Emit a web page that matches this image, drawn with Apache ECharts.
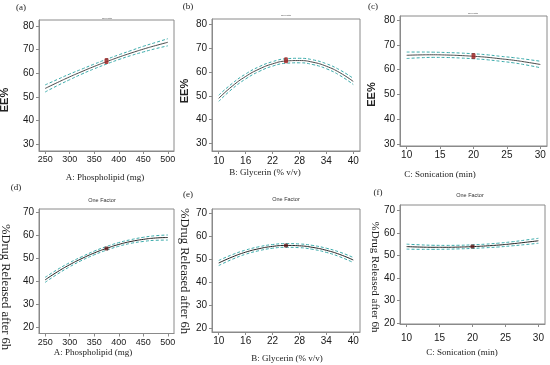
<!DOCTYPE html>
<html><head><meta charset="utf-8">
<script src="https://cdn.jsdelivr.net/npm/echarts@6/dist/echarts.min.js"></script>
<style>html,body{margin:0;padding:0;background:#fff}#c{width:550px;height:365px}</style>
</head><body><div id="c"></div>
<script>
// ---- factor levels (x) ----
const phosX = [250,275,300,325,350,375,400,425,450,475,500];
const glyX  = [10,13,16,19,22,25,28,31,34,37,40];
const sonX  = [10,12,14,16,18,20,22,24,26,28,30];

// ---- tick labels ----
const phosTicks = [250,300,350,400,450,500];
const glyTicks  = [10,16,22,28,34,40];
const sonTicks  = [10,15,20,25,30];
const eeTicks   = [30,40,50,60,70,80];
const drugTicks = [20,30,40,50,60,70];

// ---- EE% (top row): prediction, upper and lower 95% CI ----
const eePhosMid = [53.6,56.1,58.5,60.75,62.9,64.9,66.8,68.55,70.2,71.7,73.1];
const eePhosUp  = [55.1,57.4,59.7,61.8,63.9,65.9,67.8,69.6,71.4,73.0,74.6];
const eePhosLo  = [52.1,54.8,57.3,59.7,61.9,63.9,65.8,67.5,69.0,70.4,71.6];

const eeGlyMid = [49.0,54.1,58.2,61.3,63.5,64.7,64.9,64.2,62.5,59.8,56.1];
const eeGlyUp  = [50.3,55.25,59.25,62.3,64.45,65.65,65.85,65.2,63.55,60.95,57.4];
const eeGlyLo  = [47.7,52.95,57.15,60.3,62.55,63.75,63.95,63.2,61.45,58.65,54.8];

const eeSonMid = [65.8,65.95,66.0,65.9,65.7,65.4,65.0,64.4,63.8,63.0,62.1];
const eeSonUp  = [67.1,67.1,67.05,66.9,66.7,66.4,66.0,65.4,64.85,64.15,63.4];
const eeSonLo  = [64.5,64.8,64.95,64.9,64.7,64.4,64.0,63.4,62.75,61.85,60.8];

// ---- %Drug released after 6h (bottom row) ----
const drPhosMid = [40.6,44.1,47.2,49.9,52.3,54.3,56.0,57.3,58.2,58.8,59.0];
const drPhosUp  = [41.7,45.1,48.1,50.7,53.1,55.1,56.8,58.1,59.1,59.8,60.1];
const drPhosLo  = [39.5,43.1,46.3,49.1,51.5,53.5,55.2,56.5,57.3,57.8,57.9];

const drGlyMid = [48.3,50.9,53.0,54.5,55.5,55.9,55.75,55.05,53.8,52.0,49.6];
const drGlyUp  = [49.4,51.9,53.9,55.35,56.3,56.7,56.55,55.9,54.7,53.0,50.7];
const drGlyLo  = [47.2,49.9,52.1,53.65,54.7,55.1,54.95,54.2,52.9,51.0,48.5];

const drSonMid = [54.0,53.8,53.7,53.7,53.8,54.0,54.3,54.7,55.25,55.9,56.6];
const drSonUp  = [55.1,54.8,54.6,54.55,54.6,54.8,55.1,55.55,56.15,56.9,57.7];
const drSonLo  = [52.9,52.8,52.8,52.85,53.0,53.2,53.5,53.85,54.35,54.9,55.5];

// ---- center design points ----
const dotEEPhos = [375, 65.2];
const dotEEGly  = [25, 65.0];
const dotEESon  = [20, 65.5];
const dotDrPhos = [375, 54.2];
const dotDrGly  = [25, 55.9];
const dotDrSon  = [20, 54.0];

const SANS = 'Liberation Sans, Arial, sans-serif';
const SERIF = 'Liberation Serif, Times New Roman, serif';

const panels = [
  {tag:'(a)', xs:phosX, mid:eePhosMid, up:eePhosUp, lo:eePhosLo, dot:dotEEPhos, xt:phosTicks, yt:eeTicks,
   xName:'A: Phospholipid (mg)', yName:'EE%', top:true,
   g:{left:39,top:20,width:135,height:131}, xr:[237.5,512.5], yr:[27.2,82.5], xm:4, xs9:9,
   tagPos:[21,8], xnPos:[105,178], ynPos:[5,100], ofPos:[107,18]},
  {tag:'(b)', xs:glyX, mid:eeGlyMid, up:eeGlyUp, lo:eeGlyLo, dot:dotEEGly, xt:glyTicks, yt:eeTicks,
   xName:'B: Glycerin (% v/v)', yName:'EE%', top:true,
   g:{left:212,top:19,width:148,height:132}, xr:[8.5,41.5], yr:[26.8,82.4], xm:5, xs9:10,
   tagPos:[188,7], xnPos:[265,173], ynPos:[185,91], ofPos:[286,15.7]},
  {tag:'(c)', xs:sonX, mid:eeSonMid, up:eeSonUp, lo:eeSonLo, dot:dotEESon, xt:sonTicks, yt:eeTicks,
   xName:'C: Sonication (min)', yName:'EE%', top:true,
   g:{left:400,top:16,width:147,height:130}, xr:[9,31], yr:[29.3,81.6], xm:4, xs9:10,
   tagPos:[373,7], xnPos:[440,175], ynPos:[371.5,94.5], ofPos:[473,13.3]},
  {tag:'(d)', xs:phosX, mid:drPhosMid, up:drPhosUp, lo:drPhosLo, dot:dotDrPhos, xt:phosTicks, yt:drugTicks,
   xName:'A: Phospholipid (mg)', yName:'%Drug Released after 6h', top:false, yns:12.5,
   g:{left:39,top:209,width:135,height:124.5}, xr:[237.5,512.5], yr:[17.3,71.4], xm:5, xs9:9,
   tagPos:[16,188], xnPos:[93,353], ynPos:[5,287], ofPos:[102,200]},
  {tag:'(e)', xs:glyX, mid:drGlyMid, up:drGlyUp, lo:drGlyLo, dot:dotDrGly, xt:glyTicks, yt:drugTicks,
   xName:'B: Glycerin (% v/v)', yName:'%Drug Released after 6h', top:false, yns:12.5,
   g:{left:212,top:209,width:148,height:123}, xr:[8.5,41.5], yr:[18.4,71.7], xm:4, xs9:10,
   tagPos:[188,195], xnPos:[287,359], ynPos:[184,271], ofPos:[286,199]},
  {tag:'(f)', xs:sonX, mid:drSonMid, up:drSonUp, lo:drSonLo, dot:dotDrSon, xt:sonTicks, yt:drugTicks,
   xName:'C: Sonication (min)', yName:'%Drug Released after 6h', top:false, yns:11,
   g:{left:400,top:205,width:145,height:119}, xr:[9,31], yr:[19.6,72.5], xm:9, xs9:10,
   tagPos:[378,193], xnPos:[462,353], ynPos:[375,277], ofPos:[470,195]}
];

const grid = [], xAxis = [], yAxis = [], series = [], graphic = [];
const AX = '#8a8a8a';
panels.forEach((p, i) => {
  grid.push(Object.assign({show:true, borderColor:AX, borderWidth:1, backgroundColor:'#fff'}, p.g));
  xAxis.push({type:'value', gridIndex:i, min:p.xr[0], max:p.xr[1],
    axisLine:{show:true, onZero:false, lineStyle:{color:AX, width:1}},
    axisTick:{show:true, length:3, customValues:p.xt, lineStyle:{color:AX}},
    axisLabel:{customValues:p.xt, margin:p.xm, fontSize:p.xs9, fontFamily:SANS, color:'#1a1a1a'},
    splitLine:{show:false}});
  yAxis.push({type:'value', gridIndex:i, min:p.yr[0], max:p.yr[1],
    axisLine:{show:true, onZero:false, lineStyle:{color:AX, width:1}},
    axisTick:{show:true, length:3, customValues:p.yt, lineStyle:{color:AX}},
    axisLabel:{customValues:p.yt, margin:5, fontSize:10, fontFamily:SANS, color:'#1a1a1a', padding:[0,0,7,0]},
    splitLine:{show:false}});
  const pts = a => p.xs.map((x, k) => [x, a[k]]);
  const band = {color:'#3aabab', width:1, type:[3,2]};
  series.push({type:'line', xAxisIndex:i, yAxisIndex:i, data:pts(p.up), smooth:true, showSymbol:false, lineStyle:band, silent:true});
  series.push({type:'line', xAxisIndex:i, yAxisIndex:i, data:pts(p.lo), smooth:true, showSymbol:false, lineStyle:band, silent:true});
  series.push({type:'line', xAxisIndex:i, yAxisIndex:i, data:pts(p.mid), smooth:true, showSymbol:false,
    lineStyle:{color:p.top ? '#4a4a4a' : '#222', width:1}, silent:true});
  series.push({type:'scatter', xAxisIndex:i, yAxisIndex:i, data:[p.dot], symbol:'roundRect',
    symbolSize:p.top ? [4,6] : [4,4], itemStyle:{color:p.top ? '#9b1c1c' : '#5c1414'}, z:5, silent:true});

  graphic.push({type:'text', x:p.tagPos[0], y:p.tagPos[1], style:{text:p.tag, font:'9px ' + SERIF, fill:'#222', align:'center', verticalAlign:'middle'}});
  graphic.push({type:'text', x:p.xnPos[0], y:p.xnPos[1], style:{text:p.xName, font:'9px ' + SERIF, fill:'#222', align:'center', verticalAlign:'middle'}});
  graphic.push({type:'text', x:p.ynPos[0], y:p.ynPos[1], rotation:p.top ? Math.PI/2 : -Math.PI/2,
    style:{text:p.yName, font:p.top ? ('bold 11px ' + SANS) : (p.yns + 'px ' + SERIF), fill:'#222', align:'center', verticalAlign:'middle'}});
  graphic.push({type:'text', x:p.ofPos[0], y:p.ofPos[1], style:{text:'One Factor', font:(p.top ? '2px ' : '5.5px ') + SANS, fill:'#333', align:'center', verticalAlign:'middle'}});
});

const chart = echarts.init(document.getElementById('c'), null, {renderer:'canvas'});
chart.setOption({animation:false, backgroundColor:'#fff', grid, xAxis, yAxis, series, graphic});
</script>
</body></html>
